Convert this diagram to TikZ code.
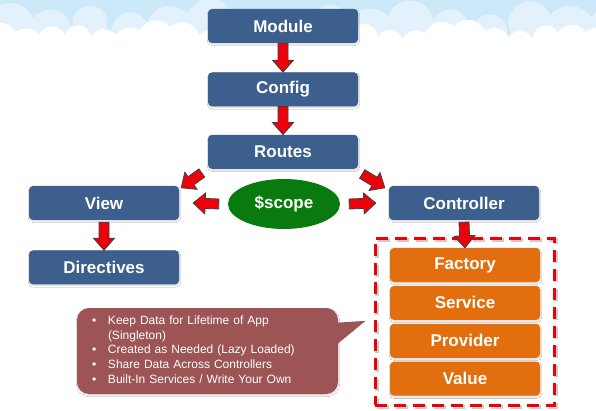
\documentclass[tikz,border=0pt]{standalone}
\usepackage{fontspec}
\setmainfont{Liberation Sans}
\usetikzlibrary{positioning,calc,fit,shadows.blur,shapes.geometric}

\definecolor{boxblue}{RGB}{60,95,142}
\definecolor{boxorange}{RGB}{226,110,14}
\definecolor{scopegreen}{RGB}{8,122,14}
\definecolor{notered}{RGB}{156,84,84}
\definecolor{arrowred}{RGB}{236,0,10}
\definecolor{skyblue}{RGB}{204,233,249}
\definecolor{cloudlight}{RGB}{226,241,251}

% block arrow between two anchors
\newcommand{\blockarrow}[2]{%
  \coordinate (ba tail) at (#1);
  \coordinate (ba tip) at (#2);
  \coordinate (ba neck) at ($(ba tip)!12pt!(ba tail)$);
  \filldraw[block arrow] ($(ba tail)!5pt!90:(ba tip)$) -- ($(ba neck)!5pt!90:(ba tip)$)
    -- ($(ba neck)!10.5pt!90:(ba tip)$) -- (ba tip) -- ($(ba neck)!10.5pt!-90:(ba tip)$)
    -- ($(ba neck)!5pt!-90:(ba tip)$) -- ($(ba tail)!5pt!-90:(ba tip)$) -- cycle;
}

\begin{document}
\begin{tikzpicture}[
    x=1pt, y=-1pt,
    % Blue steps
    blue box/.style={
        fill=boxblue,
        rounded corners=4pt,
        minimum width=150pt,
        minimum height=34pt,
        text=white,
        font=\bfseries\fontsize{17}{20}\selectfont,
        blur shadow={shadow blur steps=6, shadow xshift=0.5pt, shadow yshift=-1.5pt,
            shadow blur radius=1.2pt, shadow opacity=14}
    },
    % Orange services
    orange box/.style={
        blue box,
        fill=boxorange
    },
    % Scope
    scope oval/.style={
        ellipse,
        fill=scopegreen,
        minimum width=112pt,
        minimum height=50pt,
        inner sep=0pt,
        text=white,
        font=\bfseries\fontsize{17}{20}\selectfont
    },
    % Dashed group
    dashed frame/.style={
        draw=arrowred,
        line width=3.5pt,
        dash pattern=on 12pt off 7pt,
        inner xsep=14.5pt,
        inner ysep=9.5pt,
        preaction={draw=black!20, transform canvas={xshift=1.5pt, yshift=-1.5pt}}
    },
    % Callout
    note box/.style={
        fill=notered,
        rounded corners=12pt,
        minimum width=261pt,
        minimum height=86pt,
        text width=231pt,
        inner xsep=15pt,
        align=left,
        text=white,
        font=\fontsize{12}{14.8}\selectfont,
        blur shadow={shadow blur steps=6, shadow xshift=0.5pt, shadow yshift=-1.5pt,
            shadow blur radius=1.2pt, shadow opacity=14}
    },
    % Arrow
    block arrow/.style={
        fill=arrowred,
        draw=black!75,
        line width=0.8pt,
        line join=miter
    }
]

\useasboundingbox (0,0) rectangle (596,411);

% Sky and clouds
\fill[white] (0,0) rectangle (596,411);
\fill[skyblue] (0,0) rectangle (596,50);
\foreach \i in {0,...,15}
    \fill[cloudlight] ({\i*40+10},{28+5*sin(\i*131)}) circle ({21+4*cos(\i*77)});
\fill[white] (0,42) rectangle (596,411);
\foreach \i in {0,...,23}
    \fill[white] ({\i*26},{42+4*sin(\i*97)}) circle ({16+3*cos(\i*61)});

% Main chain
\node[blue box] (module) at (283,26) {Module};
\node[blue box, below=29pt of module] (config) {Config};
\node[blue box, below=28pt of config] (routes) {Routes};

% Middle row
\node[scope oval] (scope) at (284,204) {\$scope};
\node[blue box] (view) at (104,203) {View};
\node[blue box] (controller) at (464,203) {Controller};
\node[blue box, below=30pt of view] (directives) {Directives};

% Services
\node[orange box] (factory) at (465,265) {Factory};
\node[orange box, below=3.5pt of factory] (service) {Service};
\node[orange box, below=3.5pt of service] (provider) {Provider};
\node[orange box, below=3.5pt of provider] (valuebox) {Value};
\node[dashed frame, fit=(factory)(valuebox)] (services) {};

% Callout
\node[note box] (notes) at (207.5,351) {%
    \begin{tabular}{@{}p{16pt}@{}l@{}}
    \textbullet & Keep Data for Lifetime of App\\
                & (Singleton)\\
    \textbullet & Created as Needed (Lazy Loaded)\\
    \textbullet & Share Data Across Controllers\\
    \textbullet & Built-In Services / Write Your Own
    \end{tabular}};
\coordinate (pointer tip) at ($(services.west)+(-8,-1)$);
\fill[notered] ($(notes.north east)+(-3,15)$) -- (pointer tip) -- ($(notes.north east)+(-3,38)$) -- cycle;

% Block arrows
\blockarrow{module.south}{config.north}
\blockarrow{config.south}{routes.north}
\blockarrow{$(routes.south west)+(-6,4)$}{$(view.north east)+(2,2)$}
\blockarrow{$(routes.south east)+(4,5)$}{$(controller.north west)+(-4,2)$}
\blockarrow{$(scope.west)+(-9,0)$}{$(view.east)+(14,0)$}
\blockarrow{$(scope.east)+(9,0)$}{$(controller.west)+(-13,0)$}
\blockarrow{$(view.south)+(0,2)$}{directives.north}
\blockarrow{$(controller.south)+(0,2)$}{factory.north}

\end{tikzpicture}
\end{document}
